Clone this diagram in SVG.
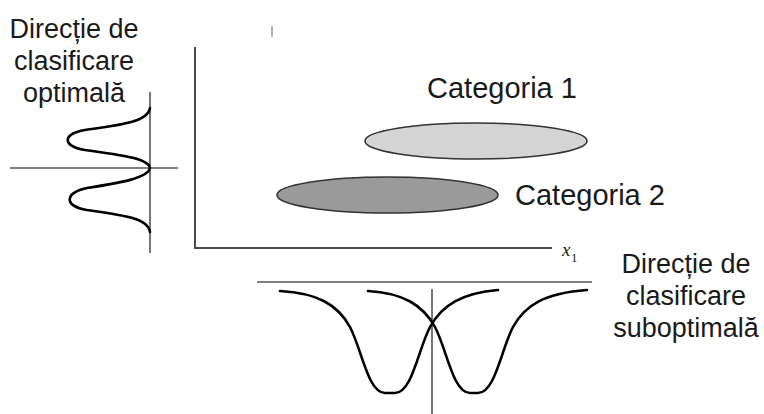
<svg xmlns="http://www.w3.org/2000/svg" width="764" height="414" viewBox="0 0 764 414">
<style>
.lbl{font-family:"Liberation Sans",Arial,sans-serif;fill:#1a1a1a;}
.big{font-size:27px;text-anchor:middle;}
.cat{font-size:29px;}
.axis{stroke:#4a4a4a;stroke-width:2;fill:none;}
.guide{stroke:#555;stroke-width:1.6;fill:none;}
.curve{stroke:#000;stroke-width:2.6;fill:none;stroke-linecap:round;}
.ell{stroke:#333;stroke-width:1.6;}
.math{font-family:"Liberation Serif","Times New Roman",serif;fill:#222;}
</style>
<rect width="764" height="414" fill="#fff"/>
<line x1="272" y1="26" x2="272" y2="37" stroke="#999" stroke-width="1.5"/>
<g id="label-optimal">
<text class="lbl big" x="74" y="38">Direcție de</text>
<text class="lbl big" x="74" y="70">clasificare</text>
<text class="lbl big" x="74" y="102">optimală</text>
</g>
<g id="optimal-projection">
<line class="guide" x1="150" y1="92" x2="150" y2="253"/>
<line class="guide" x1="10" y1="168" x2="178" y2="168"/>
<path class="curve" d="M150,108 C148,122 120,125 85,130 C62,134 62,146 85,150 C120,155 148,158 150,168 C148,178 120,183 87,188 C64,193 64,206 87,210 C122,215 148,218 150,232"/>
</g>
<g id="axes">
<path class="axis" d="M195,47 V248 H552"/>
<text class="math" x="562" y="256" style="font-size:19px;font-style:italic">x</text>
<text class="math" x="571" y="262" style="font-size:13px">1</text>
</g>
<g id="categoria-1">
<ellipse class="ell" cx="476" cy="141" rx="111" ry="18" fill="#d4d4d4"/>
<text class="lbl cat" x="427" y="98">Categoria 1</text>
</g>
<g id="categoria-2">
<ellipse class="ell" cx="387.5" cy="195" rx="110.5" ry="18" fill="#9a9a9a"/>
<text class="lbl cat" x="515" y="205">Categoria 2</text>
</g>
<g id="suboptimal-projection">
<line class="guide" x1="257" y1="282" x2="592" y2="282"/>
<line class="guide" x1="432" y1="289" x2="432" y2="414"/>
<path class="curve" d="M280,291 C318,293 338,305 350,327 C362,350 368,393 385,393 L395,393 C412,393 418,350 430,327 C442,305 462,293 498,290"/>
<path class="curve" d="M368,291 C403,293 423,305 435,327 C447,350 453,393 470,393 L478,393 C495,393 501,350 513,327 C525,305 545,293 587,290"/>
</g>
<g id="label-suboptimal">
<text class="lbl big" x="686" y="273">Direcție de</text>
<text class="lbl big" x="686" y="305">clasificare</text>
<text class="lbl big" x="686" y="337">suboptimală</text>
</g>
</svg>
